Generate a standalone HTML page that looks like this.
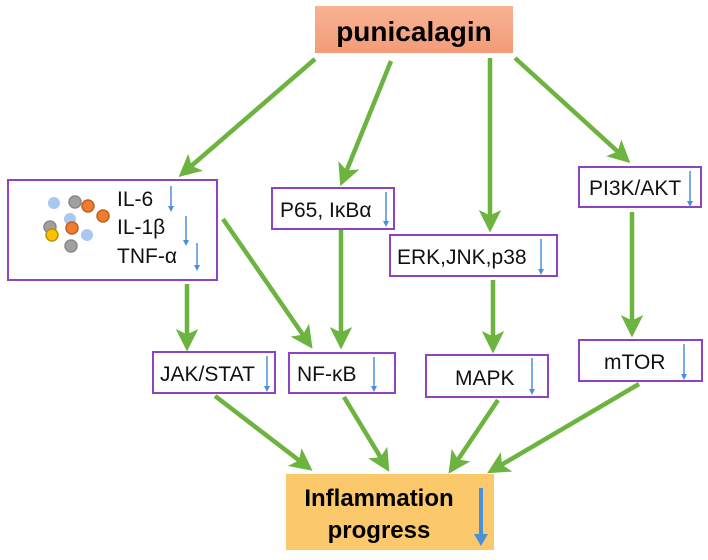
<!DOCTYPE html>
<html><head><meta charset="utf-8"><style>
html,body{margin:0;padding:0;background:#fff;width:708px;height:560px;overflow:hidden}
text{font-family:"Liberation Sans","DejaVu Sans",sans-serif}
</style></head><body>
<svg width="708" height="560" viewBox="0 0 708 560" xmlns="http://www.w3.org/2000/svg">
<defs>
<marker id="g" markerWidth="5" markerHeight="5" refX="4" refY="2.5" orient="auto" markerUnits="strokeWidth">
<path d="M0,0 L5,2.5 L0,5 L1.2,2.5 Z" fill="#6db33f"/></marker>
<marker id="b" markerWidth="6" markerHeight="6" refX="3" refY="3" orient="auto" markerUnits="userSpaceOnUse">
<path d="M0,0 L6,3 L0,6 Z" fill="#4a90d9"/></marker>
<linearGradient id="og" x1="0" y1="0" x2="0" y2="1"><stop offset="0" stop-color="#f7b393"/><stop offset="1" stop-color="#f39b78"/></linearGradient>
</defs>
<rect x="315" y="6" width="198" height="47" fill="url(#og)"/>
<text x="414" y="41" font-size="28" font-weight="bold" text-anchor="middle">punicalagin</text>

<g stroke="#6db33f" stroke-width="4.5" fill="none" marker-end="url(#g)">
<line x1="315" y1="59" x2="182" y2="174"/>
<line x1="391" y1="61" x2="342" y2="182"/>
<line x1="490" y1="58" x2="490" y2="228"/>
<line x1="515" y1="58" x2="627" y2="160"/>
<line x1="187" y1="284" x2="187" y2="347"/>
<line x1="223" y1="219" x2="310" y2="345"/>
<line x1="341" y1="230" x2="341" y2="345"/>
<line x1="493" y1="280" x2="493" y2="349"/>
<line x1="632" y1="212" x2="632" y2="333"/>
<line x1="215" y1="396" x2="309" y2="468"/>
<line x1="344" y1="397" x2="387" y2="468"/>
<line x1="498" y1="400" x2="451" y2="470"/>
<line x1="639" y1="384" x2="491" y2="471"/>
</g>

<g fill="#fff" stroke="#8e44c0" stroke-width="2">
<rect x="8" y="180" width="209" height="100"/>
<rect x="272" y="188" width="122" height="41"/>
<rect x="390" y="235" width="167" height="41"/>
<rect x="579" y="167" width="122" height="40"/>
<rect x="153" y="352" width="122" height="41"/>
<rect x="289" y="353" width="106" height="40"/>
<rect x="426" y="355" width="122" height="42"/>
<rect x="579" y="340" width="123" height="41"/>
</g>
<rect x="286" y="474" width="208" height="76" fill="#fbc86c"/>

<g stroke-width="1.5">
<circle cx="54" cy="203" r="6" fill="#a9c8ee"/>
<circle cx="75" cy="202" r="6" fill="#a0a0a0" stroke="#888"/>
<circle cx="88" cy="206" r="6" fill="#ed7d31" stroke="#c0601c"/>
<circle cx="103" cy="216" r="6" fill="#ed7d31" stroke="#c0601c"/>
<circle cx="70" cy="219" r="6" fill="#a9c8ee"/>
<circle cx="50" cy="227" r="6" fill="#a0a0a0" stroke="#888"/>
<circle cx="72" cy="228" r="6" fill="#ed7d31" stroke="#c0601c"/>
<circle cx="52" cy="235" r="6" fill="#ffc000" stroke="#c09000"/>
<circle cx="87" cy="235" r="6" fill="#a9c8ee"/>
<circle cx="71" cy="246" r="6" fill="#a0a0a0" stroke="#888"/>
</g>

<g font-size="21" fill="#111">
<text x="117" y="206">IL-6</text>
<text x="117" y="234">IL-1β</text>
<text x="117" y="263">TNF-α</text>
<text x="280" y="217">P65, IκBα</text>
<text x="397" y="264">ERK,JNK,p38</text>
<text x="589" y="195">PI3K/AKT</text>
<text x="160" y="381">JAK/STAT</text>
<text x="297" y="381">NF-κB</text>
<text x="455" y="385">MAPK</text>
<text x="604" y="369">mTOR</text>
</g>
<text x="379" y="506" font-size="24" font-weight="bold" text-anchor="middle">Inflammation</text>
<text x="379" y="538" font-size="24" font-weight="bold" text-anchor="middle">progress</text>

<g stroke="#4a90d9" stroke-width="1.5" marker-end="url(#b)">
<line x1="171" y1="186" x2="171" y2="209"/>
<line x1="186" y1="216" x2="186" y2="243"/>
<line x1="197" y1="243" x2="197" y2="268"/>
<line x1="386" y1="192" x2="386" y2="224"/>
<line x1="541" y1="239" x2="541" y2="272"/>
<line x1="690" y1="171" x2="690" y2="204"/>
<line x1="267" y1="356" x2="267" y2="389"/>
<line x1="374" y1="357" x2="374" y2="389"/>
<line x1="532" y1="358" x2="532" y2="392"/>
<line x1="684" y1="344" x2="684" y2="377"/>
</g>
<line x1="481" y1="488" x2="481" y2="540" stroke="#4a90d9" stroke-width="4" marker-end="url(#b)"/>
<path d="M474,534 L488,534 L481,546 Z" fill="#4a90d9"/>
</svg>
</body></html>
